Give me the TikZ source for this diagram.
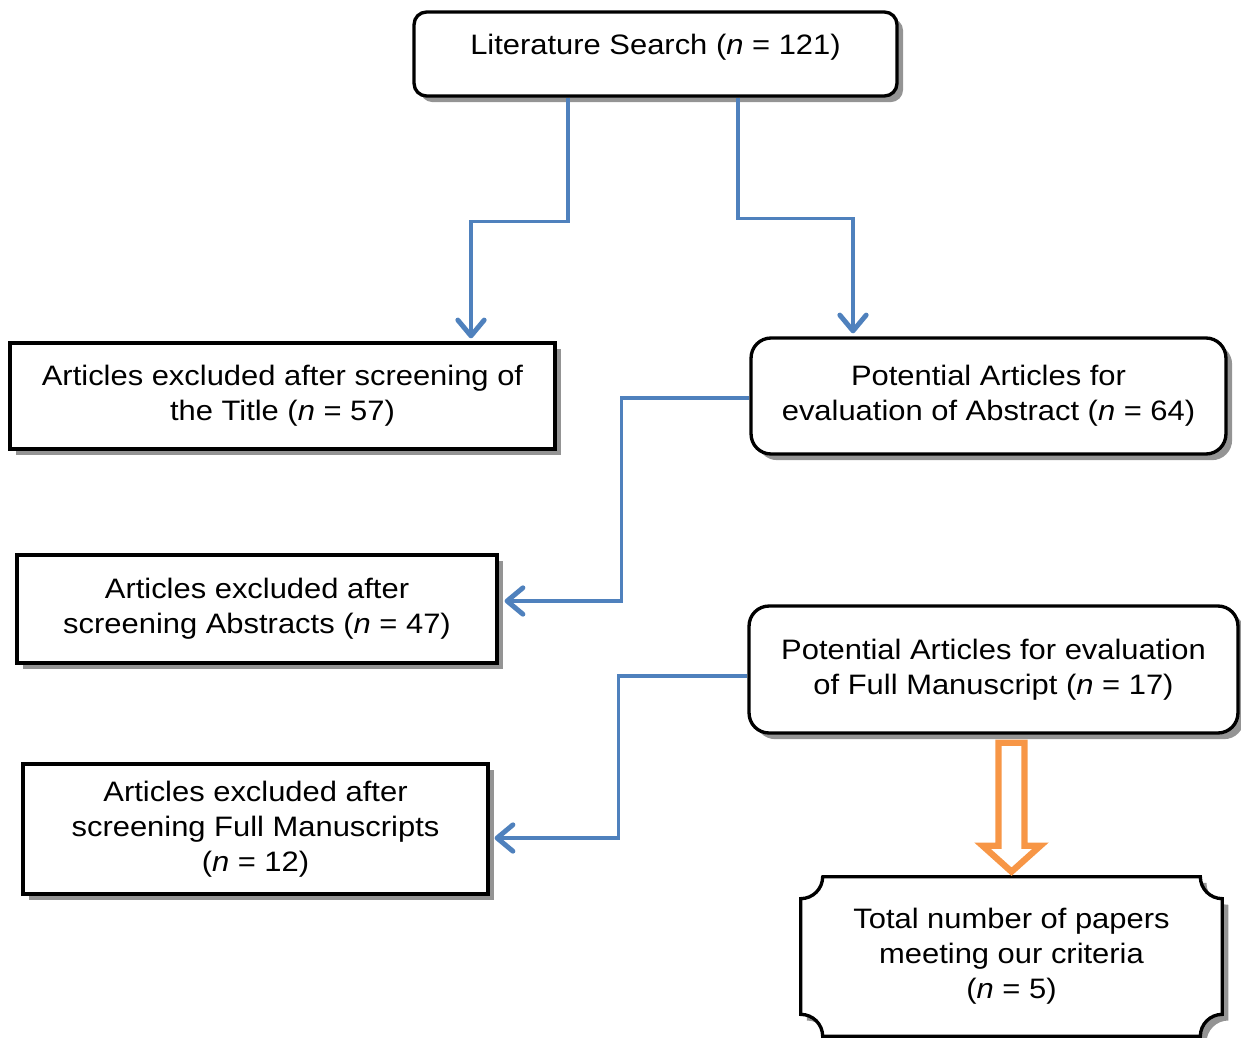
\documentclass[tikz,border=0pt]{standalone}
\usepackage{fontspec}
\setmainfont{Liberation Sans}[FakeStretch=1.1]
\usetikzlibrary{arrows.meta,calc,shadows}
\definecolor{linkblue}{HTML}{4F81BD}
\definecolor{arroworange}{HTML}{F79646}
\begin{document}
\begin{tikzpicture}[x=0.02cm,y=-0.02cm,
    every node/.style={font=\fontsize{16}{20}\selectfont,align=center,inner sep=0pt},
    shade box/.style={drop shadow={shadow xshift=3.5pt,shadow yshift=-3.5pt,fill=black!42,opacity=1}},
    box/.style={draw,line width=1.9pt,fill=white,shade box},
    roundbox/.style={box,rounded corners=0.4cm},
    link/.style={draw=linkblue,line width=2pt,-{Straight Barb[length=9pt,width=15pt,line width=2.8pt,round]}},
    hollow/.style={draw=arroworange,line width=3.6pt,fill=white,miter limit=4}]
    \useasboundingbox (0,0) rectangle (1241,1038);
    \node[roundbox,rounded corners=0.25cm,minimum width=9.66cm,minimum height=1.68cm] (lit) at (655.5,54) {};
    \node at ($(lit)+(0,-7)$) {Literature Search (\textit{n} = 121)};
    \node[box,minimum width=10.9cm,minimum height=2.12cm] (extitle) at (282.5,396)
      {Articles excluded after screening of\\the Title (\textit{n} = 57)};
    \node[roundbox,minimum width=9.5cm,minimum height=2.32cm] (potabs) at (988.5,396)
      {Potential Articles for\\evaluation of Abstract (\textit{n} = 64)};
    \node[box,minimum width=9.6cm,minimum height=2.16cm] (exabs) at (257,609)
      {Articles excluded after\\screening Abstracts (\textit{n} = 47)};
    \node[roundbox,minimum width=9.78cm,minimum height=2.54cm] (potfull) at (993.5,669.5)
      {Potential Articles for evaluation\\of Full Manuscript (\textit{n} = 17)};
    \node[box,minimum width=9.3cm,minimum height=2.6cm] (exfull) at (255.5,829)
      {Articles excluded after\\screening Full Manuscripts\\(\textit{n} = 12)};
    \node[minimum width=8.42cm,minimum height=3.18cm] (total) at (1011.5,956.5) {};
    % scroll box behind the last node
    \draw[line width=1.9pt,fill=white,shade box] ($(total.north west)+(22,0)$) -- ($(total.north east)+(-22,0)$)
      arc[start angle=180,end angle=270,radius=0.44cm] -- ($(total.south east)+(0,-22)$)
      arc[start angle=90,end angle=180,radius=0.44cm] -- ($(total.south west)+(22,0)$)
      arc[start angle=0,end angle=90,radius=0.44cm] -- ($(total.north west)+(0,22)$)
      arc[start angle=270,end angle=360,radius=0.44cm] -- cycle;
    \node at (total) {Total number of papers\\meeting our criteria\\(\textit{n} = 5)};
    \draw[link] ($(lit.south)+(-87.5,0)$) -- ++(0,124) -| ($(extitle.north)+(188.5,-3)$);
    \draw[link] ($(lit.south)+(82.5,0)$) -- ++(0,121) -| ($(potabs.north)+(-135.5,-3)$);
    \draw[link] ($(potabs.west)+(0,2)$) -- ++(-128,0) |- ($(exabs.east)+(6,-8)$);
    \draw[link] ($(potfull.west)+(0,6.5)$) -- ++(-129,0) |- ($(exfull.east)+(5,9)$);
    \draw[hollow] ($(total.north)+(-13,-134)$) -- ++(26,0) -- ++(0,103) -- ++(16,0)
      -- ++(-29,26) -- ++(-29,-26) -- ++(16,0) -- cycle;
\end{tikzpicture}
\end{document}
